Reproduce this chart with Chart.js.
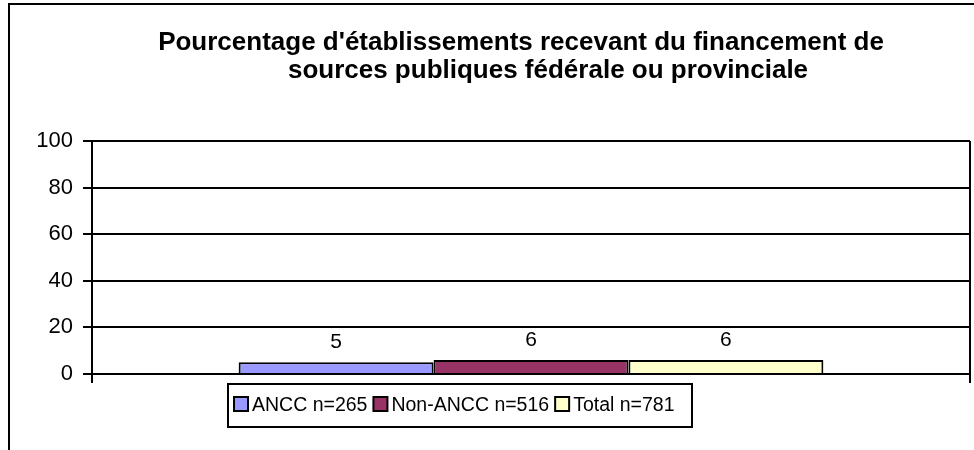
<!DOCTYPE html>
<html>
<head>
<meta charset="utf-8">
<script src="https://cdn.jsdelivr.net/npm/chart.js@4.4.0/dist/chart.umd.min.js"></script>
<style>
  body { margin: 0; background: #fff; }
  canvas { display: block; }
</style>
</head>
<body>
<canvas id="chart" width="974" height="450"></canvas>
<script>
// -------------------------------------------- data
const titleLines = ["Pourcentage d'établissements recevant du financement de", 'sources publiques fédérale ou provinciale'];
const categories = [''];
const seriesNames = ['ANCC n=265', 'Non-ANCC n=516', 'Total n=781'];
const seriesValues = [[5], [6], [6]];
const seriesColors = ['#9999FF', '#993366', '#FFFFCC'];
const yTicks = [0, 20, 40, 60, 80, 100];

const FONT = "'Liberation Sans', Arial, sans-serif";

// outer frame + title
const framePlugin = {
    id: 'frame',
    beforeDraw(chart) {
        const ctx = chart.ctx;
        ctx.save();
        ctx.fillStyle = '#fff';
        ctx.fillRect(0, 0, chart.width, chart.height);
        ctx.strokeStyle = '#000';
        ctx.lineWidth = 2;
        ctx.strokeRect(9, 4, 1200, 1200);
        ctx.fillStyle = '#000';
        ctx.font = 'bold 26px ' + FONT;
        ctx.textAlign = 'center';
        ctx.textBaseline = 'alphabetic';
        ctx.fillText(titleLines[0], 521, 50);
        ctx.fillText(titleLines[1], 548, 78);
        ctx.restore();
    }
};

// value labels above bars
const labelPlugin = {
    id: 'valueLabels',
    afterDatasetsDraw(chart) {
        const ctx = chart.ctx;
        ctx.save();
        ctx.fillStyle = '#000';
        ctx.font = '21px ' + FONT;
        ctx.textAlign = 'center';
        ctx.textBaseline = 'alphabetic';
        chart.data.datasets.forEach((ds, i) => {
            chart.getDatasetMeta(i).data.forEach((bar, j) => {
                ctx.fillText(Math.round(ds.data[j]), bar.x, bar.y - 14);
            });
        });
        ctx.restore();
    }
};

// boxed legend like excel
const legendPlugin = {
    id: 'boxLegend',
    afterDraw(chart) {
        const ctx = chart.ctx;
        ctx.save();
        ctx.font = '19.5px ' + FONT;
        ctx.textBaseline = 'alphabetic';
        ctx.textAlign = 'left';
        const left = 228, top = 384, h = 43, w = 464;
        let x = left + 6;
        chart.data.datasets.forEach((ds, i) => {
            ctx.fillStyle = ds.backgroundColor;
            ctx.fillRect(x, 397, 14, 14);
            ctx.strokeStyle = '#000';
            ctx.lineWidth = 2;
            ctx.strokeRect(x, 397, 14, 14);
            x += 18;
            ctx.fillStyle = '#000';
            ctx.fillText(ds.label, x, 411);
            x += ctx.measureText(ds.label).width + 6;
        });
        ctx.strokeStyle = '#000';
        ctx.lineWidth = 2;
        ctx.strokeRect(left, top, w, h);
        ctx.restore();
    }
};

const ctx = document.querySelector('#chart').getContext('2d');
const chart = new Chart(ctx, {
    type: 'bar',
    data: {
        labels: categories,
        datasets: seriesNames.map((name, i) => ({
            label: name,
            data: seriesValues[i],
            backgroundColor: seriesColors[i],
            borderColor: '#000',
            borderWidth: 2,
            borderSkipped: 'bottom',
            categoryPercentage: 0.666,
            barPercentage: 1,
        }))
    },
    options: {
        responsive: false,
        animation: false,
        devicePixelRatio: 1,
        layout: {
            padding: { left: 0, right: 4, top: 141, bottom: 67 }
        },
        plugins: {
            legend: { display: false },
            title: { display: false },
            tooltip: { enabled: false }
        },
        scales: {
            x: {
                grid: {
                    offset: true,
                    color: '#000',
                    lineWidth: 2,
                    tickLength: 9,
                },
                border: { color: '#000', width: 2 },
                ticks: { display: false },
                afterFit: (s) => { s.height = 9; }
            },
            y: {
                min: 0,
                max: 100,
                afterBuildTicks: (s) => { s.ticks = yTicks.map(v => ({ value: v })); },
                grid: {
                    color: '#000',
                    lineWidth: 2,
                    tickLength: 9,
                },
                border: { color: '#000', width: 2 },
                ticks: {
                    color: '#000',
                    padding: 10,
                    font: { family: FONT, size: 22 }
                },
                afterFit: (s) => { s.width = 92; }
            }
        }
    },
    plugins: [framePlugin, labelPlugin, legendPlugin]
});
</script>
</body>
</html>
